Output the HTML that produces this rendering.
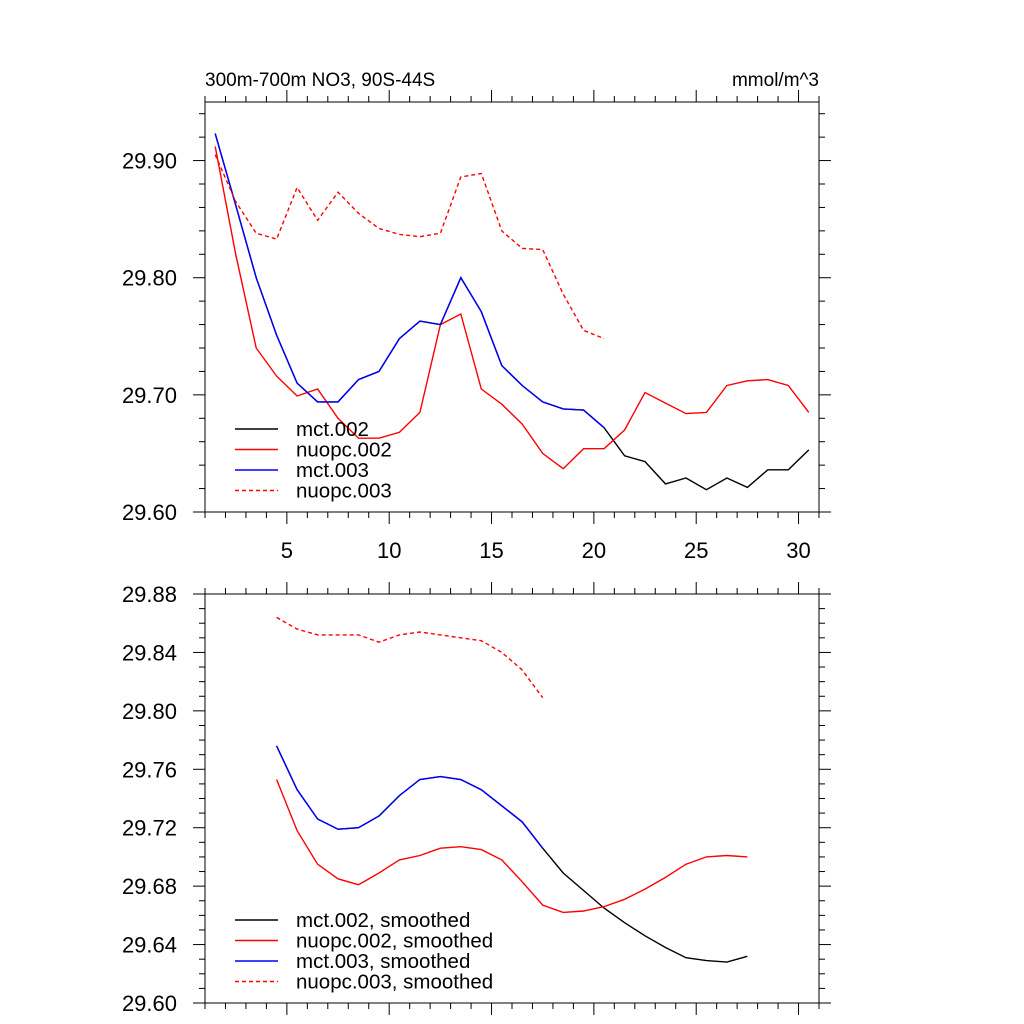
<!DOCTYPE html>
<html><head><meta charset="utf-8">
<style>body{margin:0;background:#fff}svg{display:block}text{font-family:"Liberation Sans",sans-serif}</style>
</head><body>
<svg id="c" width="1024" height="1024" xmlns="http://www.w3.org/2000/svg"></svg>
<script>
const xsTop = [1.5,2.5,3.5,4.5,5.5,6.5,7.5,8.5,9.5,10.5,11.5,12.5,13.5,14.5,15.5,16.5,17.5,18.5,19.5,20.5,21.5,22.5,23.5,24.5,25.5,26.5,27.5,28.5,29.5,30.5];
const mct002 = [29.923,29.862,29.800,29.751,29.710,29.694,29.694,29.713,29.720,29.748,29.763,29.760,29.800,29.771,29.725,29.708,29.694,29.688,29.687,29.672,29.648,29.643,29.624,29.629,29.619,29.629,29.621,29.636,29.636,29.653];
const nuopc002 = [29.912,29.820,29.740,29.716,29.699,29.705,29.680,29.663,29.663,29.668,29.685,29.760,29.769,29.705,29.692,29.675,29.650,29.637,29.654,29.654,29.670,29.702,29.693,29.684,29.685,29.708,29.712,29.713,29.708,29.685];
const mct003 = [29.923,29.862,29.800,29.751,29.710,29.694,29.694,29.713,29.720,29.748,29.763,29.760,29.800,29.771,29.725,29.708,29.694,29.688,29.687,29.672];
const nuopc003 = [29.905,29.865,29.838,29.833,29.877,29.849,29.873,29.855,29.842,29.837,29.835,29.838,29.886,29.889,29.840,29.825,29.824,29.786,29.755,29.748];
const xsBot = [4.5,5.5,6.5,7.5,8.5,9.5,10.5,11.5,12.5,13.5,14.5,15.5,16.5,17.5,18.5,19.5,20.5,21.5,22.5,23.5,24.5,25.5,26.5,27.5];
const mct002s = [29.776,29.746,29.726,29.719,29.720,29.728,29.742,29.753,29.755,29.753,29.746,29.735,29.724,29.706,29.689,29.677,29.665,29.655,29.646,29.638,29.631,29.629,29.628,29.632];
const nuopc002s = [29.753,29.718,29.695,29.685,29.681,29.689,29.698,29.701,29.706,29.707,29.705,29.698,29.683,29.667,29.662,29.663,29.666,29.671,29.678,29.686,29.695,29.700,29.701,29.700];
const mct003s = [29.776,29.746,29.726,29.719,29.720,29.728,29.742,29.753,29.755,29.753,29.746,29.735,29.724,29.706];
const nuopc003s = [29.864,29.856,29.852,29.852,29.852,29.847,29.852,29.854,29.852,29.850,29.848,29.840,29.828,29.809];
const xTickLabels = ["5","10","15","20","25","30"];
const topYTicks = ["29.60","29.70","29.80","29.90"];
const botYTicks = ["29.60","29.64","29.68","29.72","29.76","29.80","29.84","29.88"];

const svg=document.getElementById('c');const NS='http://www.w3.org/2000/svg';
function mk(t,a,p){const e=document.createElementNS(NS,t);for(const k in a)e.setAttribute(k,a[k]);(p||svg).appendChild(e);return e;}
const X0=205,X1=819;
const xs=v=>X0+(v-1)/30*(X1-X0);

function panel(name,top,bot,ymin,ymax,yTicks,minorStep,showXLabels){
  const g=mk('g',{});
  
  
  const ys=v=>bot-(v-ymin)/(ymax-ymin)*(bot-top);
  mk('rect',{x:X0,y:top,width:X1-X0,height:bot-top,fill:'none',stroke:'#000','stroke-width':1},g);
  for(let v=1;v<=31;v++){
    const maj=v%5===0, L=maj?12:6, x=xs(v);
    mk('line',{x1:x,x2:x,y1:bot,y2:bot+L,stroke:'#000'},g);
    mk('line',{x1:x,x2:x,y1:top,y2:top-L,stroke:'#000'},g);
  }
  if(showXLabels) xTickLabels.forEach(s=>{const t=mk('text',{x:xs(+s),y:bot+46,'text-anchor':'middle','font-size':22},g);t.textContent=s;
    });
  const n=Math.round((ymax-ymin)/minorStep);
  for(let i=0;i<=n;i++){
    const v=ymin+i*minorStep,y=ys(v);
    const maj=yTicks.some(s=>Math.abs(+s-v)<1e-6),L=maj?12:6;
    mk('line',{x1:X0-L,x2:X0,y1:y,y2:y,stroke:'#000'},g);
    mk('line',{x1:X1,x2:X1+L,y1:y,y2:y,stroke:'#000'},g);
  }
  yTicks.forEach(s=>{const t=mk('text',{x:177,y:ys(+s)+8,'text-anchor':'end','font-size':22},g);t.textContent=s;
    });
  return {g,ys};
}
function line(p,xsArr,vals,color,dash,name){
  const pts=vals.map((v,i)=>xs(xsArr[i]).toFixed(1)+','+p.ys(v).toFixed(1)).join(' ');
  const e=mk('polyline',{points:pts,fill:'none',stroke:color,'stroke-width':1.4},p.g);
  if(dash)e.setAttribute('stroke-dasharray','4,3');
  
  
}
function legend(p,y0,labels){
  const cols=['#000','#f00','#00f','#f00'];
  labels.forEach((s,i)=>{
    const y=y0+i*20.5;
    const l=mk('line',{x1:235,x2:278,y1:y,y2:y,stroke:cols[i],'stroke-width':1.4},p.g);
    if(i===3)l.setAttribute('stroke-dasharray','4,3');
    const t=mk('text',{x:296,y:y+7,'font-size':20.5},p.g);t.textContent=s;
    
  });
}
const p1=panel('top-panel',102,512,29.60,29.95,topYTicks,0.02,true);
line(p1,xsTop,mct002,'#000',false,'line-mct002');
line(p1,xsTop,nuopc002,'#f00',false,'line-nuopc002');
line(p1,xsTop,mct003,'#00f',false,'line-mct003');
line(p1,xsTop,nuopc003,'#f00',true,'line-nuopc003');
legend(p1,429,['mct.002','nuopc.002','mct.003','nuopc.003']);
let t=mk('text',{x:205,y:86,'font-size':19});t.textContent='300m-700m NO3, 90S-44S';

t=mk('text',{x:819,y:86,'font-size':19,'text-anchor':'end'});t.textContent='mmol/m^3';


const p2=panel('bottom-panel',594,1003,29.60,29.88,botYTicks,0.01,false);
line(p2,xsBot,mct002s,'#000',false,'line-mct002-smoothed');
line(p2,xsBot,nuopc002s,'#f00',false,'line-nuopc002-smoothed');
line(p2,xsBot,mct003s,'#00f',false,'line-mct003-smoothed');
line(p2,xsBot,nuopc003s,'#f00',true,'line-nuopc003-smoothed');
legend(p2,920,['mct.002, smoothed','nuopc.002, smoothed','mct.003, smoothed','nuopc.003, smoothed']);
</script>
</body></html>
